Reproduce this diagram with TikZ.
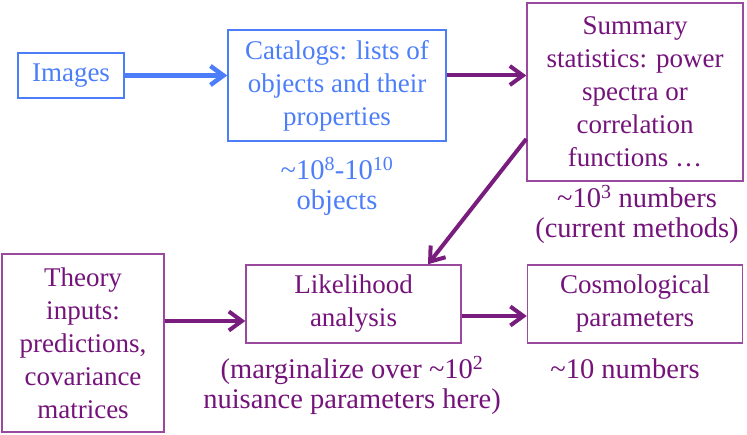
\documentclass[tikz,border=0pt]{standalone}
\usepackage{fontspec}
\setmainfont{Liberation Serif}
\usetikzlibrary{arrows.meta, positioning}
\definecolor{PipeBlue}{HTML}{4D7EFA}
\definecolor{PipePurple}{HTML}{74137A}
\definecolor{PipeFrame}{HTML}{9A4A9E}
\definecolor{PipeArrow}{HTML}{781C7E}
\tikzset{
    % Box styles - sharp corners, fixed sizes
    bluebox/.style={
        rectangle,
        draw=PipeBlue,
        line width=1.5pt,
        text=PipeBlue,
        inner sep=0pt,
        align=center,
        font=\fontsize{27}{33}\selectfont
    },
    purplebox/.style={
        rectangle,
        draw=PipeFrame,
        line width=1.5pt,
        text=PipePurple,
        inner sep=0pt,
        align=center,
        font=\fontsize{27}{33}\selectfont
    },
    % Notes under the boxes
    note/.style={
        inner sep=0pt,
        align=center,
        font=\fontsize{28.5}{30}\selectfont
    },
    % Arrow styles - straight lines only
    bluearrow/.style={
        -{Straight Barb[length=13pt, width=19pt]},
        line width=4.5pt,
        draw=PipeBlue
    },
    purplearrow/.style={
        -{Straight Barb[length=13pt, width=19pt]},
        line width=4pt,
        draw=PipeArrow
    }
}
\begin{document}
\begin{tikzpicture}[x=1pt, y=-1pt]
    \useasboundingbox (0,0) rectangle (747,435);

    \node[bluebox, minimum width=106pt, minimum height=45pt] (images) at (71,75.5) {Images};
    \node[bluebox, minimum width=218pt, minimum height=111pt] (catalogs) at (337,85.5) {Catalogs: lists of\\objects and their\\properties};
    \node[purplebox, minimum width=216pt, minimum height=178pt] (summary) at (635,92) {Summary\\statistics: power\\spectra or\\correlation\\functions \dots};

    \node[purplebox, minimum width=162pt, minimum height=178pt] (theory) at (83,343) {Theory\\inputs:\\predictions,\\covariance\\matrices};
    \node[purplebox, minimum width=215pt, minimum height=78pt] (likelihood) at (353.5,304) {Likelihood\\analysis};
    \node[purplebox, minimum width=215pt, minimum height=78pt] (cosmo) at (635,304) {Cosmological\\parameters};

    \node[note, text=PipeBlue] (catnote) at (337,186) {\textasciitilde10\textsuperscript{8}-10\textsuperscript{10}\\objects};
    \node[note, text=PipePurple] (sumnote) at (637,214) {\textasciitilde10\textsuperscript{3} numbers\\(current methods)};
    \node[note, text=PipePurple] (likenote) at (352,385) {(marginalize over \textasciitilde10\textsuperscript{2}\\nuisance parameters here)};
    \node[note, text=PipePurple] (cosmonote) at (625,369) {\textasciitilde10 numbers};

    \draw[bluearrow] (images.east) -- (images.east -| catalogs.west);
    \draw[purplearrow] (catalogs.east |- images.east) -- (summary.west |- images.east);
    \draw[purplearrow] ([yshift=-47pt]summary.west) -- ([xshift=74.5pt]likelihood.north);
    \draw[purplearrow] ([yshift=-17pt]likelihood.west -| theory.east) -- ([yshift=-17pt]likelihood.west);
    \draw[purplearrow] ([yshift=-12pt]likelihood.east) -- ([yshift=-12pt]likelihood.east -| cosmo.west);
\end{tikzpicture}
\end{document}
